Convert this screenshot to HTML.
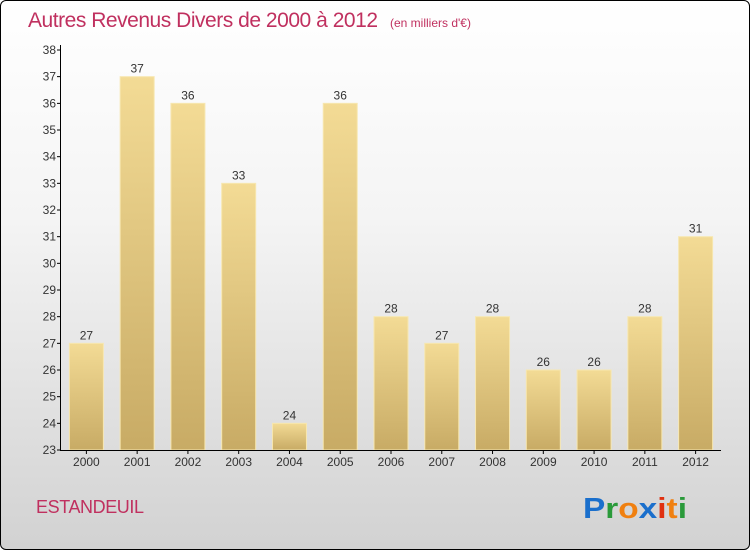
<!DOCTYPE html>
<html><head><meta charset="utf-8"><style>
body{margin:0;width:750px;height:550px;overflow:hidden;font-family:"Liberation Sans",sans-serif}
#wrap{position:absolute;left:0;top:0;width:748px;height:548px;border:1px solid #000;border-radius:6px;background:linear-gradient(#ffffff 0%,#f4f4f4 40%,#d2d2d2 100%);overflow:hidden}
</style></head><body>
<div id="wrap">
<svg id="chart" width="750" height="550" style="position:absolute;left:-1px;top:-1px">
<defs><linearGradient id="bg" x1="0" y1="0" x2="0" y2="1"><stop offset="0" stop-color="#f3db95"/><stop offset="1" stop-color="#c8ab65"/></linearGradient></defs>
<text x="28" y="27" font-size="21" fill="#c0305f" textLength="350">Autres Revenus Divers de 2000 à 2012</text>
<text x="390" y="27" font-size="12" fill="#c0305f">(en milliers d'€)</text>
<text x="36" y="513" font-size="18" fill="#c0305f" textLength="108">ESTANDEUIL</text>
<g font-size="29" font-weight="bold" font-family="Liberation Sans, sans-serif">
<text x="583" y="518" textLength="104" lengthAdjust="spacingAndGlyphs"><tspan fill="#1a6fcc">P</tspan><tspan fill="#2a9a3a">r</tspan><tspan fill="#f08010">o</tspan><tspan fill="#1a6fcc">x</tspan><tspan fill="#e03010">i</tspan><tspan fill="#f08010">t</tspan><tspan fill="#2a9a3a">i</tspan></text></g>
</svg>
</div>
<script>
const categories=["2000","2001","2002","2003","2004","2005","2006","2007","2008","2009","2010","2011","2012"];
const values=[27,37,36,33,24,36,28,27,28,26,26,28,31];
const yTicks=[23,24,25,26,27,28,29,30,31,32,33,34,35,36,37,38];
const svg=document.getElementById('chart');const NS='http://www.w3.org/2000/svg';
const x0=61,x1=721,y0=450,y1=50,ymin=23,ymax=38;
const band=(x1-x0)/categories.length;
const xs=i=>x0+band*(i+0.5);
const ys=v=>y0-(v-ymin)/(ymax-ymin)*(y0-y1);
function el(t,a){const e=document.createElementNS(NS,t);for(const k in a)e.setAttribute(k,a[k]);svg.appendChild(e);return e;}
values.forEach((v,i)=>{
 const r=el('rect',{x:xs(i)-17,y:ys(v),width:34,height:y0-ys(v),fill:'url(#bg)',stroke:'#f7e7b0','stroke-width':1});
 
 
 const t=el('text',{x:xs(i),y:ys(v)-4,'text-anchor':'middle','font-size':12,fill:'#333'});t.textContent=v;
 
 
 const c=el('text',{x:xs(i),y:466,'text-anchor':'middle','font-size':12,fill:'#333'});c.textContent=categories[i];
 
 
 el('line',{x1:xs(i),x2:xs(i),y1:y0,y2:y0+4,stroke:'#000'});
});
const ax=el('line',{x1:x0-0.5,x2:x0-0.5,y1:y1-5,y2:y0,stroke:'#000'});


const bx=el('line',{x1:x0-1,x2:x1,y1:y0+0.5,y2:y0+0.5,stroke:'#000'});


yTicks.forEach(v=>{
 el('line',{x1:x0-4,x2:x0-1,y1:ys(v),y2:ys(v),stroke:'#000'});
 const t=el('text',{x:x0-5,y:ys(v)+4,'text-anchor':'end','font-size':12,fill:'#333'});t.textContent=v;
 
 
});
</script>
</body></html>
